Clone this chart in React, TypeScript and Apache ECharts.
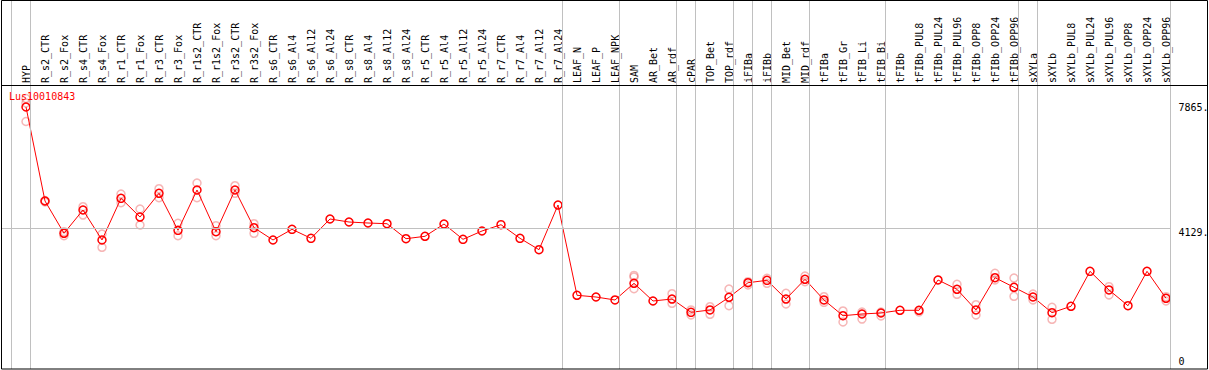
import React, { useEffect, useRef } from "react";
import * as echarts from "echarts";

// ---------- data ----------
const geneName = "Lus10010843";

const categories = [
  "HYP", "R_s2_CTR", "R_s2_Fox", "R_s4_CTR", "R_s4_Fox", "R_r1_CTR", "R_r1_Fox", "R_r3_CTR", "R_r3_Fox",
  "R_r1s2_CTR", "R_r1s2_Fox", "R_r3s2_CTR", "R_r3s2_Fox", "R_s6_CTR", "R_s6_Al4", "R_s6_Al12", "R_s6_Al24",
  "R_s8_CTR", "R_s8_Al4", "R_s8_Al12", "R_s8_Al24", "R_r5_CTR", "R_r5_Al4", "R_r5_Al12", "R_r5_Al24",
  "R_r7_CTR", "R_r7_Al4", "R_r7_Al12", "R_r7_Al24", "LEAF_N", "LEAF_P", "LEAF_NPK", "SAM", "AR_Bet", "AR_rdf",
  "cPAR", "TOP_Bet", "TOP_rdf", "iFIBa", "iFIBb", "MID_Bet", "MID_rdf", "tFIBa", "tFIB_Gr", "tFIB_Li", "tFIB_Bi",
  "tFIBb", "tFIBb_PUL8", "tFIBb_PUL24", "tFIBb_PUL96", "tFIBb_OPP8", "tFIBb_OPP24", "tFIBb_OPP96",
  "sXYLa", "sXYLb", "sXYLb_PUL8", "sXYLb_PUL24", "sXYLb_PUL96", "sXYLb_OPP8", "sXYLb_OPP24", "sXYLb_OPP96",
];

const meanValues = [
  7865, 4960, 3962, 4682, 3755, 5043, 4465, 5198, 4054, 5300, 4011, 5300, 4135,
  3755, 4085, 3807, 4404, 4311, 4280, 4258, 3795, 3869, 4249, 3776, 4033, 4228, 3807, 3455, 4836,
  2046, 1993, 1901, 2417, 1870, 1931, 1520, 1592, 1984, 2435, 2509, 1931, 2540,
  1901, 1415, 1468, 1499, 1582, 1582, 2519, 2231, 1592, 2590, 2293,
  1993, 1508, 1706, 2787, 2210, 1724, 2787, 1953,
];

const replicateValues: number[][] = [
  [8127, 7989, 7417], [4975, 4929], [4011, 3888], [4784, 4527], [3940, 3529], [5176, 4907], [4713, 4218],
  [5340, 5062], [4271, 3888], [5516, 5062], [4197, 3888], [5433, 5198], [4258, 3962],
  [], [], [], [], [], [], [], [], [], [], [], [], [], [], [], [],
  [], [], [], [2660, 2610, 2250], [], [2095, 1799], [1592, 1437], [1693, 1459], [2240, 1724],
  [2466, 2364], [2571, 2417], [2108, 1777], [2642, 2466], [2002, 1829], [1561, 1221], [1530, 1313],
  [1530, 1406], [], [1530], [], [2386, 2077], [1755, 1437], [2726, 2519], [2580, 2015],
  [2086, 1901], [1675, 1304], [], [], [2312, 2055], [], [], [2002, 1870],
];

// index of the last category of each group (a separator follows it)
const groupEnds = [-1, 0, 28, 31, 34, 35, 37, 38, 39, 41, 45, 52, 53, 60];

const refValues = [7865, 4129, 0];
const refLabels = ["7865.", "4129.", "0"];
const refLineVisible = [false, true, false];

// ---------- layout ----------
const W = 1209;
const H = 370;
const STEP = 19;          // px per category
const X0 = 26;            // px of first category
const FRAME_L = 1;
const FRAME_R = 1208;
const FRAME_B = 369;
const HEADER_Y = 85;
const Y_ZERO = 361.5;     // px of value 0
const PX_PER_UNIT = (361.5 - 107) / 7865;
const SEP_OFFSET = 4.5 / STEP;

const xOfPx = (px: number) => (px - X0) / STEP;
const vOfPx = (py: number) => (Y_ZERO - py) / PX_PER_UNIT;

const MONO = "DejaVu Sans Mono";
const RED = "#ff0000";
const GRAY = "#c0c0c0";

export default function App() {
  const ref = useRef<HTMLDivElement>(null);

  useEffect(() => {
    if (!ref.current) return;
    const chart = echarts.init(ref.current, null, { renderer: "svg" });

    const mainData = meanValues.map((v, i) => [i, v]);
    const repData: number[][] = [];
    replicateValues.forEach((arr, i) => arr.forEach((v) => repData.push([i, v])));

    const xStart = xOfPx(FRAME_L);
    const lastSep = groupEnds[groupEnds.length - 1] + SEP_OFFSET;

    const option: any = {
      animation: false,
      backgroundColor: "#ffffff",
      title: {
        text: geneName,
        left: 9,
        top: 91,
        padding: 0,
        textStyle: { color: RED, fontSize: 10, fontWeight: "normal", fontFamily: MONO },
      },
      grid: [
        { left: FRAME_L, right: W - FRAME_R, top: 0, bottom: H - FRAME_B },
        { left: X0 - STEP, right: W - (X0 + 61 * STEP), top: HEADER_Y, bottom: H - FRAME_B },
      ],
      xAxis: [
        {
          type: "value", gridIndex: 0, min: xOfPx(FRAME_L), max: xOfPx(FRAME_R),
          show: false, splitLine: { show: false },
        },
        {
          type: "value", gridIndex: 1, min: -1, max: 61, interval: 1, position: "top",
          axisLine: { show: false }, axisTick: { show: false }, splitLine: { show: false },
          axisLabel: {
            rotate: 90, margin: 2, fontSize: 10, fontFamily: MONO, color: "#000",
            formatter: (v: number) => categories[Math.round(v)] ?? "",
          },
        },
      ],
      yAxis: [
        {
          type: "value", gridIndex: 0, min: vOfPx(FRAME_B), max: vOfPx(0),
          show: false, splitLine: { show: false },
        },
        { type: "value", gridIndex: 1, min: 0, max: 1, show: false, splitLine: { show: false } },
      ],
      series: [
        {
          type: "line", xAxisIndex: 0, yAxisIndex: 0, data: [], clip: false, z: 1, silent: true,
          markLine: {
            silent: true, symbol: "none", animation: false,
            data: [
              ...groupEnds.map((g) => ({
                xAxis: g + SEP_OFFSET,
                lineStyle: { color: GRAY, width: 1, type: "solid" },
                label: { show: false },
              })),
              ...refValues.map((v, k) => [
                {
                  coord: [xStart, v],
                  lineStyle: { color: refLineVisible[k] ? GRAY : "rgba(0,0,0,0)", width: 1, type: "solid" },
                  label: {
                    show: true, position: "end", distance: 8,
                    formatter: refLabels[k], color: "#000", fontSize: 10, fontFamily: MONO,
                    offset: refLineVisible[k] ? [0, 4.5] : [0, 0],
                  },
                },
                { coord: [lastSep, v] },
              ]),
            ],
          },
        },
        {
          type: "scatter", xAxisIndex: 0, yAxisIndex: 0, data: repData, z: 2, silent: true,
          symbol: "circle", symbolSize: 8,
          itemStyle: { color: "rgba(255,255,255,0)", borderColor: "rgba(235,90,90,0.55)", borderWidth: 1.5 },
        },
        {
          type: "line", xAxisIndex: 0, yAxisIndex: 0, data: mainData, z: 3, silent: true,
          symbol: "circle", symbolSize: 8, showSymbol: true,
          lineStyle: { color: RED, width: 1 },
          itemStyle: { color: "rgba(255,255,255,0)", borderColor: RED, borderWidth: 1.5 },
        },
      ],
      graphic: [
        {
          type: "rect", z: 100, silent: true,
          shape: { x: FRAME_L + 0.5, y: 0.5, width: FRAME_R - FRAME_L - 1, height: FRAME_B - 0.5 },
          style: { fill: "none", stroke: "#000", lineWidth: 1 },
        },
        {
          type: "line", z: 100, silent: true,
          shape: { x1: FRAME_L, y1: HEADER_Y + 0.5, x2: FRAME_R, y2: HEADER_Y + 0.5 },
          style: { stroke: "#000", lineWidth: 1 },
        },
      ],
    };

    chart.setOption(option);
    return () => chart.dispose();
  }, []);

  return (
    <div
      ref={ref}
      style={{ position: "absolute", left: 0, top: 0, width: W, height: H }}
    />
  );
}
